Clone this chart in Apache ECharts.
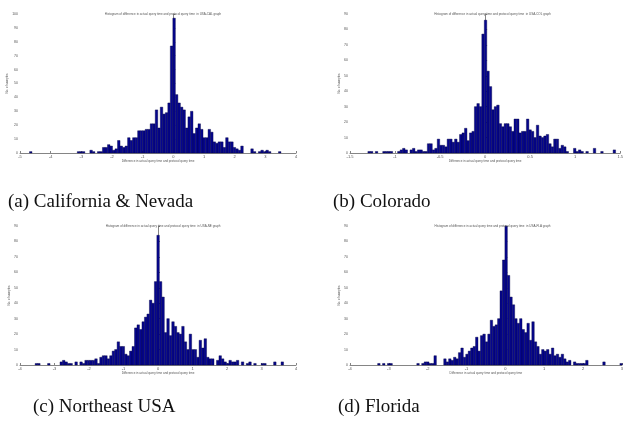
<!DOCTYPE html>
<html>
<head>
<meta charset="utf-8">
<script src="https://cdn.jsdelivr.net/npm/echarts@6/dist/echarts.min.js"></script>
<style>
html,body{margin:0;padding:0;background:#fff;}
#chart{width:626px;height:426px;}
</style>
</head>
<body>
<div id="chart"></div>
<script>
// ---- Data (histogram counts; 100 bins each) ----
const titleBase = 'Histogram of difference in actual query time and protocol query time  in ';
const panelGraphs = ['USA-CAL graph', 'USA-COL graph', 'USA-NE graph', 'USA-FLA graph'];
const captions = ['(a) California & Nevada', '(b) Colorado', '(c) Northeast USA', '(d) Florida'];
const xAxisName = 'Difference in actual query time and protocol query time';
const yAxisName = 'No. of samples';

// bin layout: first bin start and bin width for each panel
const binStartA = -4.69, binWidthA = 0.082;
const binStartB = -1.3015, binWidthB = 0.0275;
const binStartC = -3.561, binWidthC = 0.072;
const binStartD = -3.288, binWidthD = 0.063;

const countsA = [1,0,0,0,0,0,0,0,0,0, 0,0,0,0,0,0,0,0,0,1, 1,1,0,0,2,1,0,1,1,4,
  4,6,5,2,3,9,5,4,5,11, 9,11,11,16,16,16,17,17,21,21, 31,18,33,28,29,36,77,97,42,36,
  33,31,18,26,30,14,18,21,17,11, 11,17,15,8,7,8,8,4,11,8, 8,4,3,2,5,0,0,0,3,1,
  0,1,2,1,2,1,0,0,0,1];
const countsB = [1,1,0,1,0,0,1,1,1,1, 0,0,1,2,3,2,0,2,3,1, 2,2,1,1,6,6,2,3,9,5,
  5,4,9,9,7,9,7,12,13,16, 8,13,14,30,32,30,77,86,53,43, 28,30,31,19,17,19,19,17,14,22,
  22,13,14,14,22,15,14,10,18,11, 10,11,12,6,4,9,9,3,5,4, 1,0,0,3,1,2,1,0,1,0,
  0,3,0,0,1,0,0,0,0,2];
const countsC = [1,1,0,0,0,1,0,0,0,0, 2,3,2,1,1,0,2,0,2,1, 3,3,3,3,4,1,5,6,6,4,
  6,9,10,15,12,12,7,6,9,12, 24,26,23,28,31,33,42,40,54,84, 54,44,21,30,19,28,25,21,20,25,
  15,10,20,10,10,5,16,11,17,5, 4,4,0,3,6,4,2,1,3,2, 2,3,0,2,0,1,2,0,1,0,
  0,1,1,0,0,0,2,0,0,2];
const countsD = [1,0,1,0,1,1,0,0,0,0, 0,0,0,0,0,0,1,0,1,2, 2,1,1,6,0,0,0,4,2,4,
  3,5,4,8,11,5,7,9,11,12, 18,9,19,20,15,20,29,25,26,30, 48,68,90,58,44,39,30,27,30,23,
  21,27,16,28,15,12,7,10,9,10, 7,11,6,7,5,7,4,2,3,0, 2,1,1,1,1,3,0,0,0,0,
  0,0,2,0,0,0,0,0,0,1];

// axis ranges / ticks
const xMin = [-5, -1.5, -4, -4], xMax = [4, 1.5, 4, 3], xStep = [1, 0.5, 1, 1];
const yMax = [100, 90, 90, 90], yStep = [10, 10, 10, 10];

// ---- Layout ----
const grids = [
  {left: 20, top: 14, width: 276, height: 139},
  {left: 350, top: 14, width: 275, height: 139},
  {left: 20, top: 226, width: 276, height: 139},
  {left: 350, top: 226, width: 275, height: 139}
];
const panels = [
  {start: binStartA, width: binWidthA, counts: countsA},
  {start: binStartB, width: binWidthB, counts: countsB},
  {start: binStartC, width: binWidthC, counts: countsC},
  {start: binStartD, width: binWidthD, counts: countsD}
];

const barFill = '#06068e';
const barEdge = '#000040';
const axisColor = '#858585';
const smallText = '#555555';

const option = {
  backgroundColor: '#fff',
  animation: false,
  title: [],
  grid: grids.map(g => Object.assign({containLabel: false}, g)),
  xAxis: [],
  yAxis: [],
  series: []
};

panels.forEach((p, k) => {
  const g = grids[k];
  option.title.push({
    text: titleBase + panelGraphs[k],
    left: g.left + g.width / 2,
    top: g.top - 6,
    textAlign: 'center',
    textStyle: {fontSize: 3, fontWeight: 'normal', color: smallText, fontFamily: 'Liberation Sans'}
  });
  option.xAxis.push({
    type: 'value', gridIndex: k, min: xMin[k], max: xMax[k], interval: xStep[k],
    name: xAxisName, nameLocation: 'middle', nameGap: 6,
    nameTextStyle: {fontSize: 3, color: smallText, fontFamily: 'Liberation Sans'},
    axisLine: {show: true, onZero: false, lineStyle: {color: axisColor, width: 1}},
    axisTick: {show: true, inside: true, length: 2, lineStyle: {color: axisColor}},
    axisLabel: {fontSize: 4, color: smallText, margin: 2, fontFamily: 'Liberation Sans',
      showMinLabel: true, showMaxLabel: true},
    splitLine: {show: false}
  });
  option.yAxis.push({
    type: 'value', gridIndex: k, min: 0, max: yMax[k], interval: yStep[k],
    name: yAxisName, nameLocation: 'middle', nameGap: 9, nameRotate: 90,
    nameTextStyle: {fontSize: 3, color: smallText, fontFamily: 'Liberation Sans'},
    axisLine: {show: true, lineStyle: {color: axisColor, width: 1}},
    axisTick: {show: true, inside: true, length: 2, lineStyle: {color: axisColor}},
    axisLabel: {fontSize: 3.5, color: smallText, margin: 2, fontFamily: 'Liberation Sans'},
    splitLine: {show: false}
  });
  const data = [];
  p.counts.forEach((c, i) => {
    if (c > 0) data.push([p.start + p.width * i, p.start + p.width * (i + 1), c]);
  });
  option.series.push({
    type: 'custom', xAxisIndex: k, yAxisIndex: k,
    encode: {x: [0, 1], y: 2},
    data: data,
    renderItem: function (params, api) {
      const a = api.coord([api.value(0), api.value(2)]);
      const b = api.coord([api.value(1), 0]);
      return {
        type: 'rect',
        shape: {x: a[0], y: a[1], width: b[0] - a[0], height: b[1] - a[1]},
        style: {fill: barFill, stroke: barEdge, lineWidth: 0.4}
      };
    }
  });
});

// captions
const capPos = [[3, 188], [328, 188], [28, 393], [333, 393]];
captions.forEach((t, k) => {
  option.title.push({
    text: t, left: capPos[k][0], top: capPos[k][1],
    textStyle: {fontSize: 19, fontWeight: 'normal', color: '#111', fontFamily: 'Liberation Serif'}
  });
});

const chart = echarts.init(document.getElementById('chart'), null, {renderer: 'canvas'});
chart.setOption(option);
</script>
</body>
</html>
